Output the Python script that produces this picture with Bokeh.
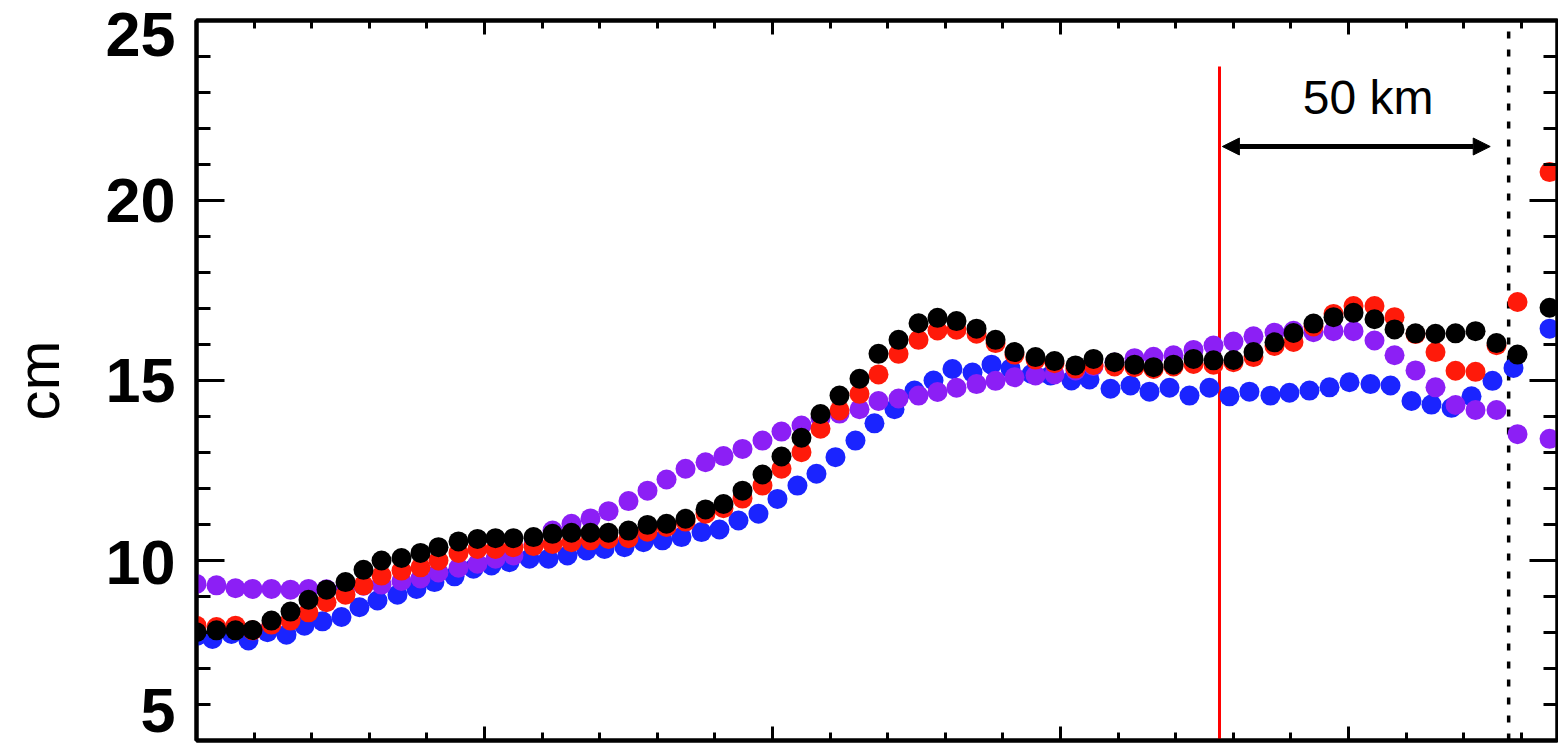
from bokeh.plotting import figure
from bokeh.models import (Range1d, LinearAxis, Arrow, NormalHead, Label,
                          FixedTicker, CustomJSTickFormatter)
from bokeh.embed import file_html
from bokeh.resources import INLINE

# ---------------- data ----------------
# along-track distance (km) of each sample; blue series is sampled slightly earlier
x_km = [0.0, 3.47, 6.77, 9.72, 13.02, 16.32, 19.44, 22.57, 25.87, 28.99,
        32.12, 35.59, 38.89, 42.01, 45.49, 48.78, 51.91, 55.03, 58.51, 61.81,
        65.10, 68.40, 71.53, 75.0, 78.3, 81.6, 84.9, 88.37, 91.49, 94.79,
        98.26, 101.56, 105.03, 108.33, 111.63, 115.10, 118.40, 121.88, 125.35, 128.65,
        131.94, 135.42, 138.72, 142.01, 145.66, 148.96, 152.6, 155.73, 159.38, 162.85,
        166.15, 169.62, 173.09, 176.56, 180.03, 183.5, 187.15, 190.45, 193.92, 197.4,
        200.87, 204.51, 207.99, 211.63, 215.1, 218.58, 222.05, 225.69, 229.34, 234.9]
x_km_blue = [0.0, 2.77, 6.07, 9.02, 12.32, 15.62, 18.74, 21.87, 25.17, 28.29,
             31.42, 34.89, 38.19, 41.31, 44.79, 48.08, 51.21, 54.33, 57.81, 61.11,
             64.4, 67.7, 70.83, 74.3, 77.6, 80.9, 84.2, 87.67, 90.79, 94.09,
             97.56, 100.86, 104.33, 107.63, 110.93, 114.4, 117.7, 121.18, 124.65, 127.95,
             131.24, 134.72, 138.02, 141.31, 144.96, 148.26, 151.9, 155.03, 158.68, 162.15,
             165.45, 168.92, 172.39, 175.86, 179.33, 182.8, 186.45, 189.75, 193.22, 196.7,
             200.17, 203.81, 207.29, 210.93, 214.4, 217.88, 221.35, 224.99, 228.64, 234.9]

black = [8.01, 8.06, 8.06, 8.07, 8.33, 8.58, 8.91, 9.19, 9.4, 9.74,
         10.0, 10.07, 10.21, 10.37, 10.53, 10.6, 10.62, 10.62, 10.65, 10.74,
         10.77, 10.77, 10.77, 10.83, 10.99, 11.02, 11.16, 11.42, 11.57, 11.94,
         12.39, 12.89, 13.41, 14.07, 14.58, 15.05, 15.74, 16.13, 16.59, 16.74,
         16.65, 16.44, 16.13, 15.79, 15.65, 15.54, 15.42, 15.6, 15.51, 15.44,
         15.37, 15.44, 15.6, 15.56, 15.57, 15.79, 16.06, 16.32, 16.58, 16.76,
         16.88, 16.7, 16.42, 16.31, 16.3, 16.31, 16.37, 16.04, 15.72, 17.02]
red = [8.19, 8.15, 8.19, 8.06, 8.22, 8.33, 8.56, 8.84, 9.05, 9.31,
       9.58, 9.72, 9.81, 10.0, 10.21, 10.32, 10.32, 10.37, 10.4, 10.46,
       10.51, 10.56, 10.6, 10.62, 10.8, 10.93, 11.08, 11.3, 11.45, 11.72,
       12.08, 12.55, 13.01, 13.66, 14.17, 14.63, 15.17, 15.74, 16.13, 16.39,
       16.41, 16.3, 16.04, 15.72, 15.58, 15.48, 15.33, 15.43, 15.39, 15.37,
       15.32, 15.39, 15.46, 15.44, 15.51, 15.65, 15.96, 16.07, 16.5, 16.85,
       17.07, 17.07, 16.76, 16.29, 15.79, 15.27, 15.24, 15.98, 17.18, 20.79]
blue = [7.9, 7.82, 7.96, 7.78, 8.01, 7.94, 8.19, 8.31, 8.43, 8.7,
        8.89, 9.05, 9.21, 9.4, 9.56, 9.77, 9.86, 9.95, 10.05, 10.05,
        10.14, 10.28, 10.32, 10.37, 10.51, 10.56, 10.65, 10.79, 10.86, 11.11,
        11.3, 11.71, 12.08, 12.41, 12.87, 13.33, 13.81, 14.2, 14.72, 15.0,
        15.32, 15.22, 15.44, 15.33, 15.18, 15.14, 15.0, 15.03, 14.77, 14.86,
        14.69, 14.8, 14.58, 14.8, 14.56, 14.69, 14.58, 14.66, 14.72, 14.81,
        14.95, 14.9, 14.86, 14.43, 14.33, 14.24, 14.56, 14.99, 15.35, 16.44]
purple = [9.35, 9.31, 9.23, 9.21, 9.21, 9.19, 9.21, 9.2, 9.28, 9.3,
          9.33, 9.43, 9.5, 9.67, 9.8, 9.91, 10.05, 10.14, 10.45, 10.83,
          11.02, 11.17, 11.37, 11.65, 11.94, 12.25, 12.55, 12.73, 12.9, 13.1,
          13.33, 13.58, 13.75, 13.96, 14.08, 14.2, 14.43, 14.5, 14.58, 14.68,
          14.8, 14.9, 14.99, 15.09, 15.14, 15.17, 15.28, 15.4, 15.5, 15.62,
          15.66, 15.7, 15.85, 15.97, 16.08, 16.23, 16.33, 16.38, 16.34, 16.37,
          16.37, 16.11, 15.7, 15.28, 14.81, 14.32, 14.18, 14.18, 13.51, 13.38]

y_major_ticks = [5, 10, 15, 20, 25]
y_tick_labels = ["5", "10", "15", "20", "25"]
y_minor_ticks = list(range(5, 26))
x_major_ticks = [0, 50, 100, 150, 200]
x_minor_ticks = list(range(0, 241, 10))
y_axis_title = "cm"

# where each y tick label is centred (the end ones sit just inside the page)
y_label_positions = [5.82, 9.95, 15, 20, 24.61]

red_line_km = 177.6
red_line_top = 23.72
dotted_line_km = 227.8
arrow_x0, arrow_x1, arrow_y = 178.1, 224.6, 21.5
scale_text = "50 km"
scale_text_x, scale_text_y = 203.4, 22.87

# ---------------- figure ----------------
p = figure(width=1558, height=745,
           x_range=Range1d(0, 236.28), y_range=Range1d(5, 25),
           x_axis_type=None, y_axis_type=None,
           output_backend="svg", toolbar_location=None,
           min_border_left=196, min_border_top=20,
           min_border_bottom=5, min_border_right=1)
p.outline_line_color = "black"
p.outline_line_width = 4
p.background_fill_color = "white"
p.border_fill_color = "white"

blank = CustomJSTickFormatter(code="return ''")


def make_axis(major, minor, major_in, minor_in):
    return LinearAxis(ticker=FixedTicker(ticks=major, minor_ticks=minor),
                      formatter=blank,
                      major_tick_in=major_in, major_tick_out=0,
                      minor_tick_in=minor_in, minor_tick_out=0,
                      major_label_standoff=0,
                      axis_line_width=4, axis_line_color="black",
                      major_tick_line_width=3, minor_tick_line_width=3,
                      major_tick_line_color="black", minor_tick_line_color="black")


p.add_layout(make_axis(x_major_ticks, x_minor_ticks, 14, 8), "below")
p.add_layout(make_axis(x_major_ticks, x_minor_ticks, 14, 8), "above")
p.add_layout(make_axis(y_major_ticks, y_minor_ticks, 28, 14), "left")
p.add_layout(make_axis(y_major_ticks, y_minor_ticks, 28, 14), "right")

# second left axis: carries only the tick labels and the "cm" title
label_axis = LinearAxis(
    ticker=FixedTicker(ticks=y_label_positions, minor_ticks=[]),
    formatter=CustomJSTickFormatter(args=dict(labs=y_tick_labels), code="return labs[index]"),
    axis_line_color=None, major_tick_line_color=None, minor_tick_line_color=None,
    major_tick_in=0, major_tick_out=0, minor_tick_in=0, minor_tick_out=0,
    major_label_standoff=21,
    major_label_text_font="Liberation Sans", major_label_text_font_style="bold",
    major_label_text_font_size="63px", major_label_text_color="black",
    axis_label=y_axis_title, axis_label_standoff=30,
    axis_label_text_font="Liberation Sans", axis_label_text_font_style="normal",
    axis_label_text_font_size="60px", axis_label_text_color="black")
p.add_layout(label_axis, "left")

# reference lines
p.segment(x0=[red_line_km], y0=[5], x1=[red_line_km], y1=[red_line_top],
          line_color="#ff0000", line_width=3)
p.segment(x0=[dotted_line_km], y0=[5], x1=[dotted_line_km], y1=[25],
          line_color="black", line_width=3.5, line_dash="7 11")

# series (drawing order: blue, purple, red, black)
p.scatter(x_km_blue, blue, size=20, fill_color="#1a24ff", line_color=None)
p.scatter(x_km, purple, size=20, fill_color="#8c1ff5", line_color=None)
p.scatter(x_km, red, size=20, fill_color="#ff1a0a", line_color=None)
p.scatter(x_km, black, size=20, fill_color="black", line_color=None)

# 50 km scale arrow
p.add_layout(Arrow(x_start=arrow_x0, y_start=arrow_y, x_end=arrow_x1, y_end=arrow_y,
                   line_width=5, line_color="black",
                   start=NormalHead(size=17, fill_color="black", line_color="black", line_width=1),
                   end=NormalHead(size=17, fill_color="black", line_color="black", line_width=1)))
p.add_layout(Label(x=scale_text_x, y=scale_text_y, text=scale_text,
                   text_align="center", text_baseline="middle",
                   text_font="Liberation Sans", text_font_size="48px", text_color="black"))

open("out.html", "w").write(file_html(p, INLINE))
